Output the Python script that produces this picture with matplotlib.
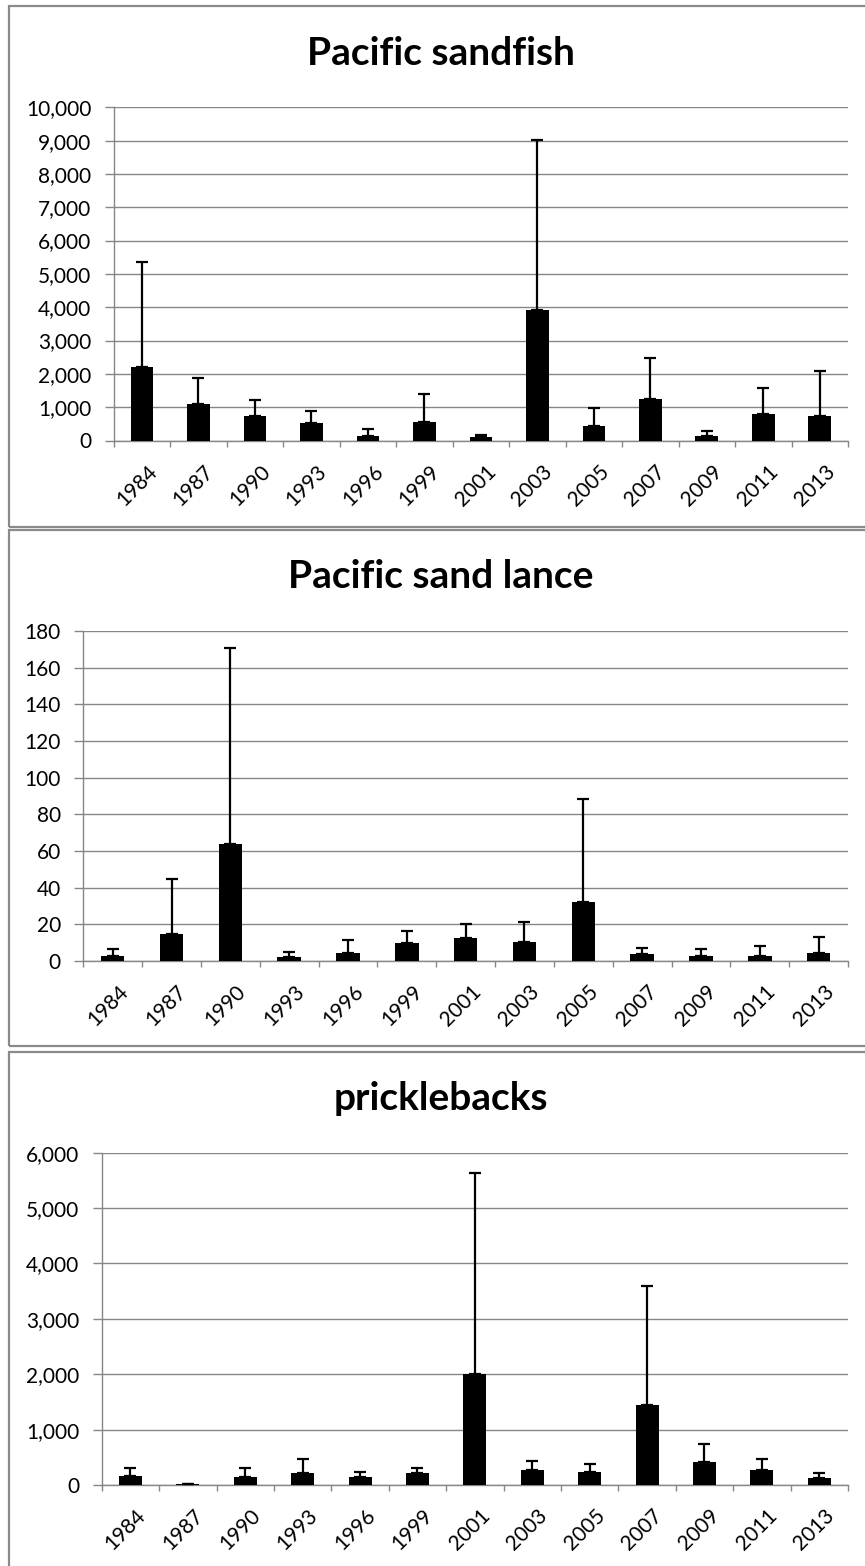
import matplotlib
matplotlib.use('Agg')
import matplotlib.pyplot as plt
from matplotlib.patches import Rectangle
from matplotlib.ticker import FuncFormatter, MultipleLocator
from matplotlib.transforms import ScaledTranslation

# 数据：年份与三种鱼类的均值和误差（上侧）
years = ['1984', '1987', '1990', '1993', '1996', '1999', '2001',
         '2003', '2005', '2007', '2009', '2011', '2013']

sandfish_mean = [2220, 1100, 730, 520, 140, 550, 100, 3930, 450, 1250, 140, 800, 730]
sandfish_err = [3130, 780, 500, 380, 220, 850, 80, 5090, 530, 1230, 150, 770, 1370]

sandlance_mean = [2.8, 14.7, 63.7, 2.2, 4.6, 9.7, 12.3, 10.5, 32.3, 4.0, 2.8, 2.8, 4.6]
sandlance_err = [3.6, 30.3, 107.1, 2.8, 7.0, 6.6, 7.7, 11.0, 56.1, 3.0, 3.6, 5.3, 8.4]

prickle_mean = [168, 15, 150, 210, 148, 210, 2004, 274, 234, 1450, 422, 273, 121]
prickle_err = [139, 5, 157, 262, 80, 97, 3627, 154, 153, 2144, 321, 197, 99]

W, H = 865, 1566
GRID = '#868686'
BORDER = '#8a8a8a'


def setup_plot_style():
    plt.rcParams['font.family'] = ['Lato', 'DejaVu Sans']
    plt.rcParams['font.size'] = 15


def px_axes(fig, left, top, right, bottom):
    """按像素坐标创建坐标轴"""
    return fig.add_axes([left / W, 1 - bottom / H, (right - left) / W, (bottom - top) / H])


def draw_panel(fig, box, title, title_y, mean, err, ymax, ystep, fmt):
    ax = px_axes(fig, *box)
    x = list(range(len(years)))
    ax.bar(x, mean, width=0.4, color='black', zorder=3)
    ax.errorbar(x, mean, yerr=[[0] * len(err), err], fmt='none', ecolor='black',
                elinewidth=1.6, capsize=4, capthick=1.6, zorder=4)

    ax.set_xlim(-0.5, len(years) - 0.5)
    ax.set_ylim(0, ymax)
    ax.yaxis.set_major_locator(MultipleLocator(ystep))
    ax.yaxis.set_major_formatter(FuncFormatter(fmt))
    ax.grid(axis='y', color=GRID, linewidth=1.0, zorder=0)
    ax.set_axisbelow(True)

    for side in ['top', 'right']:
        ax.spines[side].set_visible(False)
    for side in ['left', 'bottom']:
        ax.spines[side].set_color(GRID)
        ax.spines[side].set_linewidth(1.0)

    ax.tick_params(axis='y', length=6.2, width=1.0, color=GRID, pad=10, labelsize=15)
    # 类别之间的刻度线
    ax.set_xticks([i - 0.5 for i in range(len(years) + 1)], minor=True)
    ax.tick_params(axis='x', which='minor', length=4.5, width=1.0, color=GRID)
    ax.set_xticks(x)
    ax.set_xticklabels(years, rotation=45, ha='right', va='top', rotation_mode='anchor')
    ax.tick_params(axis='x', which='major', length=0, pad=15, labelsize=15)
    shift = ScaledTranslation(5 / 100, 0, fig.dpi_scale_trans)
    for lab in ax.get_xticklabels():
        lab.set_transform(lab.get_transform() + shift)

    fig.text(441 / W, 1 - title_y / H, title, ha='center', va='baseline',
             fontsize=28, fontweight='bold')
    return ax


def main():
    setup_plot_style()
    fig = plt.figure(figsize=(W / 100, H / 100), dpi=100)

    # 三个面板的外框
    for top, bottom in [(6, 527), (530, 1046), (1051.5, 1600)]:
        fig.patches.append(Rectangle((9 / W, 1 - bottom / H), (900 - 9) / W, (bottom - top) / H,
                                     transform=fig.transFigure, fill=False,
                                     edgecolor=BORDER, linewidth=1.6, clip_on=False))

    comma = lambda v, p: f'{int(v):,}'
    plain = lambda v, p: f'{int(v)}'

    draw_panel(fig, (113.7, 107.3, 848, 440.5), 'Pacific sandfish', 65,
               sandfish_mean, sandfish_err, 10000, 1000, comma)
    draw_panel(fig, (83.3, 631, 848, 961), 'Pacific sand lance', 588,
               sandlance_mean, sandlance_err, 180, 20, plain)
    draw_panel(fig, (101.7, 1152.7, 848, 1485), 'pricklebacks', 1110,
               prickle_mean, prickle_err, 6000, 1000, comma)

    plt.savefig('out.png', dpi=100, facecolor='white')


if __name__ == '__main__':
    main()
